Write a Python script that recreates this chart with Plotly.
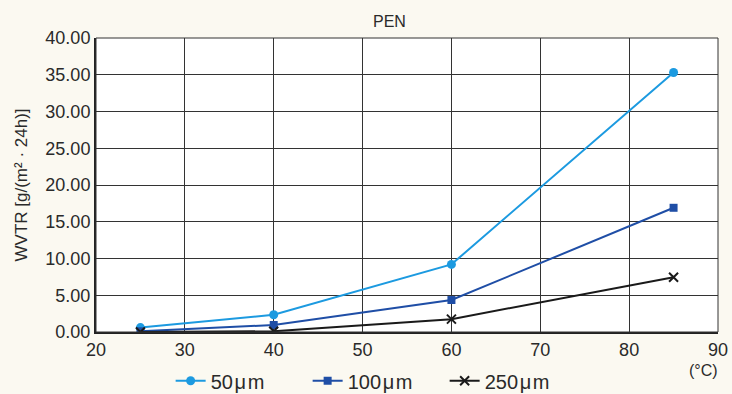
import plotly.graph_objects as go

temps = [25, 40, 60, 85]
wvtr_50 = [0.6, 2.35, 9.2, 35.3]
wvtr_100 = [0.1, 0.95, 4.35, 16.9]
wvtr_250 = [0.0, 0.1, 1.75, 7.45]
names = ["50\u200a\u03bc\u200am", "100\u200a\u03bc\u200am", "250\u200a\u03bc\u200am"]
colors = ["#1c9ae0", "#1f4ea6", "#1a1a1a"]

FONT = "Liberation Sans"

fig = go.Figure()
fig.add_trace(go.Scatter(x=temps, y=wvtr_50, name=names[0], mode="lines+markers",
                         line=dict(color=colors[0], width=2),
                         marker=dict(symbol="circle", size=9, color=colors[0])))
fig.add_trace(go.Scatter(x=temps, y=wvtr_100, name=names[1], mode="lines+markers",
                         line=dict(color=colors[1], width=2),
                         marker=dict(symbol="square", size=8, color=colors[1])))
fig.add_trace(go.Scatter(x=temps, y=wvtr_250, name=names[2], mode="lines+markers",
                         line=dict(color=colors[2], width=2),
                         marker=dict(symbol="x-thin-open", size=9, color=colors[2],
                                     line=dict(color=colors[2], width=2))))

fig.update_layout(
    width=732, height=394,
    margin=dict(l=96, r=14, t=38, b=62, autoexpand=False),
    paper_bgcolor="#fbf9f1",
    plot_bgcolor="#ffffff",
    font=dict(family=FONT, size=16, color="#2a2a2a"),
    showlegend=True,
    legend=dict(orientation="h", x=0.12, xanchor="left", y=-0.166, yanchor="middle",
                entrywidth=92, entrywidthmode="pixels",
                bgcolor="rgba(0,0,0,0)", font=dict(size=20), tracegroupgap=0),
    xaxis=dict(range=[20, 90], dtick=10, tick0=20, showgrid=True, gridcolor="#333333",
               gridwidth=1, showline=True, linecolor="#222222", linewidth=2, mirror=False,
               zeroline=False, ticks="", tickfont=dict(size=18)),
    yaxis=dict(range=[0, 40], dtick=5, tickformat=".2f", showgrid=True, gridcolor="#333333",
               gridwidth=1, showline=True, linecolor="#222222", linewidth=2,
               zeroline=False, ticks="", tickfont=dict(size=18),
               title=dict(text="WVTR [g/(m\u00b2 \u00b7 24h)]", font=dict(size=17), standoff=13)),
    shapes=[dict(type="rect", xref="paper", yref="paper", x0=0, y0=0, x1=1, y1=1,
                 line=dict(color="#333333", width=1))],
    annotations=[
        dict(text="PEN", xref="paper", yref="paper", x=0.472, y=1.0, yanchor="bottom",
             yshift=6, showarrow=False, font=dict(size=16)),
        dict(text="(\u00b0C)", xref="paper", yref="paper", x=1.0, xshift=2, y=0, yanchor="top",
             yshift=-28, showarrow=False, font=dict(size=16)),
    ],
)

fig.write_html("out.html", config={"displayModeBar": False},
               post_script="document.body.style.margin='0';")
